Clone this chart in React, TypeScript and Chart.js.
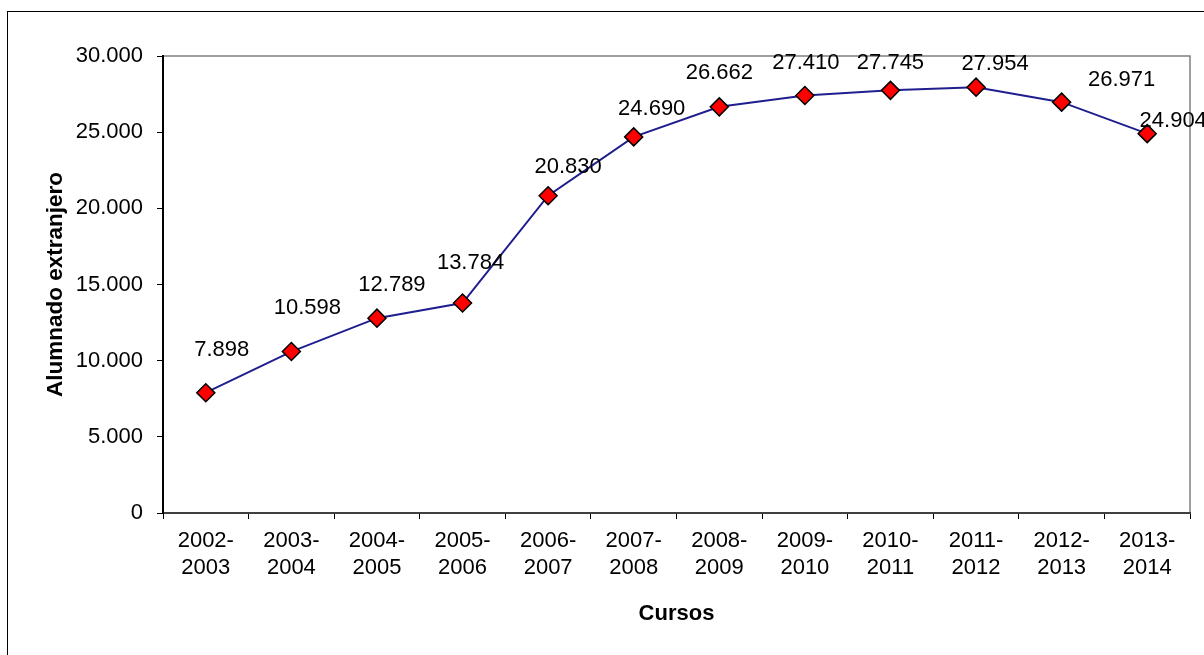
import React, { useEffect, useRef } from "react";
import { Chart, registerables } from "chart.js";

Chart.register(...registerables);

const categories: string[][] = [
  ["2002-", "2003"], ["2003-", "2004"], ["2004-", "2005"], ["2005-", "2006"],
  ["2006-", "2007"], ["2007-", "2008"], ["2008-", "2009"], ["2009-", "2010"],
  ["2010-", "2011"], ["2011-", "2012"], ["2012-", "2013"], ["2013-", "2014"],
];
const alumnado: number[] = [7898, 10598, 12789, 13784, 20830, 24690, 26662, 27410, 27745, 27954, 26971, 24904];
const yTicks: number[] = [0, 5000, 10000, 15000, 20000, 25000, 30000];

// label offsets (style): [dx, dy] in pixels relative to each point
const labelOffsets: number[][] = [
  [16, -43], [16, -44], [15, -33], [8, -40], [20, -29], [18, -28],
  [0, -34], [1, -33], [0, -27], [19, -23], [60, -22], [26, -13],
];

const fmt = (v: number) => {
  const s = Math.round(v).toString();
  return s.replace(/\B(?=(\d{3})+(?!\d))/g, ".");
};

const FONT = "'Liberation Sans', Arial, sans-serif";

const framePlugin = {
  id: "frame",
  beforeDraw(chart: any) {
    const { ctx, chartArea } = chart;
    ctx.save();
    ctx.fillStyle = "#ffffff";
    ctx.fillRect(0, 0, chart.width, chart.height);
    ctx.strokeStyle = "#000000";
    ctx.lineWidth = 1;
    ctx.strokeRect(7.5, 11.5, 1400, 800);
    ctx.strokeStyle = "#808080";
    ctx.lineWidth = 1.5;
    ctx.beginPath();
    ctx.moveTo(chartArea.left, chartArea.top);
    ctx.lineTo(chartArea.right, chartArea.top);
    ctx.lineTo(chartArea.right, chartArea.bottom);
    ctx.stroke();
    ctx.restore();
  },
};

const labelPlugin = {
  id: "pointLabels",
  afterDatasetsDraw(chart: any) {
    const { ctx } = chart;
    const meta = chart.getDatasetMeta(0);
    const data = chart.data.datasets[0].data as number[];
    ctx.save();
    ctx.font = `22px ${FONT}`;
    ctx.fillStyle = "#000000";
    ctx.textAlign = "center";
    ctx.textBaseline = "middle";
    meta.data.forEach((pt: any, i: number) => {
      const off = labelOffsets[i] || [0, -30];
      ctx.fillText(fmt(data[i]), pt.x + off[0], pt.y + off[1]);
    });
    ctx.restore();
  },
};

export default function App() {
  const ref = useRef<HTMLCanvasElement | null>(null);
  useEffect(() => {
    document.body.style.margin = "0";
    const canvas = ref.current!;
    const chart = new Chart(canvas, {
      type: "line",
      data: {
        labels: categories,
        datasets: [
          {
            data: alumnado,
            borderColor: "#1f1f8f",
            borderWidth: 2,
            pointStyle: "rectRot",
            pointRadius: 9,
            pointBackgroundColor: "#ff0000",
            pointBorderColor: "#000000",
            pointBorderWidth: 1.5,
            tension: 0,
            fill: false,
          },
        ],
      },
      options: {
        animation: false,
        responsive: false,
        maintainAspectRatio: false,
        devicePixelRatio: 1,
        layout: { padding: { left: 0, top: 56, right: 14, bottom: 0 } },
        plugins: { legend: { display: false }, tooltip: { enabled: false } },
        scales: {
          x: {
            type: "category",
            offset: true,
            grid: { offset: true, drawOnChartArea: false, drawTicks: true, tickLength: 6, color: "#000000", lineWidth: 1 },
            border: { display: true, color: "#404040", width: 2 },
            ticks: { color: "#000000", font: { family: FONT, size: 22, lineHeight: 1.2 }, padding: 9, maxRotation: 0, autoSkip: false },
            title: { display: true, text: "Cursos", color: "#000000", font: { family: FONT, size: 22, weight: "bold" }, padding: { top: 0, bottom: 28 } },
            afterFit: (scale: any) => { scale.height = 142; },
          },
          y: {
            min: 0,
            max: 30000,
            afterBuildTicks: (scale: any) => { scale.ticks = yTicks.map((v) => ({ value: v })); },
            grid: { drawOnChartArea: false, drawTicks: true, tickLength: 6, color: "#000000", lineWidth: 1 },
            border: { display: true, color: "#000000", width: 2 },
            ticks: { color: "#000000", font: { family: FONT, size: 22 }, padding: 14, callback: (v: any) => fmt(Number(v)) },
            title: { display: true, text: "Alumnado extranjero", color: "#000000", font: { family: FONT, size: 22.5, weight: "bold" }, padding: { top: 42, bottom: 0 } },
            afterFit: (scale: any) => { scale.width = 163; },
          },
        },
      },
      plugins: [framePlugin, labelPlugin],
    });
    return () => chart.destroy();
  }, []);
  return (
    <div style={{ position: "absolute", left: 0, top: 0, width: 1204, height: 655 }}>
      <canvas ref={ref} width={1204} height={655} style={{ width: 1204, height: 655, display: "block" }} />
    </div>
  );
}
